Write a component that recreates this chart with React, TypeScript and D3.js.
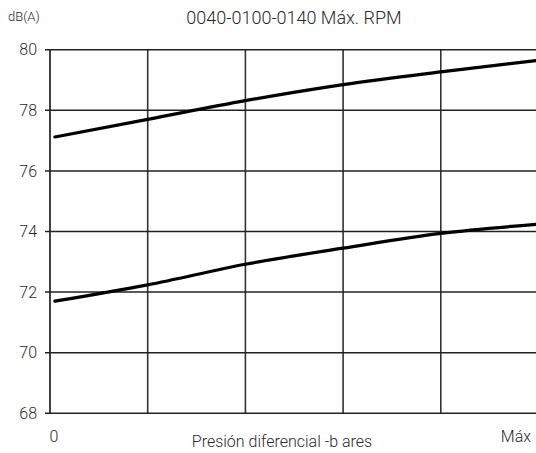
import React, { useRef, useEffect } from "react";
import * as d3 from "d3";

// x en divisiones de la rejilla (0 .. 5), y en dB(A)
const xUpper = [0.05, 1, 2, 3, 4, 5];
const yUpper = [77.12, 77.7, 78.32, 78.85, 79.27, 79.65];
const xLower = [0.05, 1, 2, 3, 4, 5];
const yLower = [71.7, 72.24, 72.92, 73.45, 73.94, 74.24];
const yTicks = [68, 70, 72, 74, 76, 78, 80];
const xGrid = [0, 1, 2, 3, 4, 5];

export default function App() {
  const svgRef = useRef<SVGSVGElement>(null);

  useEffect(() => {
    const width = 536;
    const height = 453;
    const margin = { top: 49.7, right: -2.5, bottom: 39.7, left: 50 };

    const svg = d3.select(svgRef.current);
    svg.selectAll("*").remove();
    svg.attr("width", width).attr("height", height);

    const x = d3.scaleLinear().domain([0, 5]).range([margin.left, width - margin.right]);
    const y = d3.scaleLinear().domain([68, 80]).range([height - margin.bottom, margin.top]);

    const font = "Roboto, 'Liberation Sans', sans-serif";
    const txt = "#2a2a2a";

    // Rejilla vertical
    svg
      .append("g")
      .selectAll("line")
      .data(xGrid)
      .enter()
      .append("line")
      .attr("x1", (d) => x(d))
      .attr("x2", (d) => x(d))
      .attr("y1", y(80))
      .attr("y2", y(68))
      .attr("stroke", (d) => (d === 0 ? "#111" : "#333"))
      .attr("stroke-width", 1.6);

    // Rejilla horizontal con marcas
    svg
      .append("g")
      .selectAll("line")
      .data(yTicks)
      .enter()
      .append("line")
      .attr("x1", margin.left - 5)
      .attr("x2", x(5))
      .attr("y1", (d) => y(d))
      .attr("y2", (d) => y(d))
      .attr("stroke", "#222")
      .attr("stroke-width", 1.5);

    // Etiquetas eje y
    svg
      .append("g")
      .selectAll("text")
      .data(yTicks)
      .enter()
      .append("text")
      .attr("x", 37)
      .attr("y", (d) => y(d))
      .attr("dy", "0.36em")
      .attr("text-anchor", "end")
      .style("font-family", font)
      .style("font-size", "16px")
      .style("font-weight", 300)
      .attr("fill", txt)
      .text((d) => d);

    // Curvas
    const line = d3
      .line<[number, number]>()
      .x((d) => x(d[0]))
      .y((d) => y(d[1]))
      .curve(d3.curveMonotoneX);

    const series = [
      xUpper.map((v, i) => [v, yUpper[i]] as [number, number]),
      xLower.map((v, i) => [v, yLower[i]] as [number, number]),
    ];

    svg
      .append("g")
      .selectAll("path")
      .data(series)
      .enter()
      .append("path")
      .attr("d", (d) => line(d))
      .attr("fill", "none")
      .attr("stroke", "#000")
      .attr("stroke-width", 3.2)
      .attr("stroke-linecap", "round");

    // Textos
    const label = (t: string, px: number, py: number, size: number, anchor: string) =>
      svg
        .append("text")
        .attr("x", px)
        .attr("y", py)
        .attr("text-anchor", anchor)
        .style("font-family", font)
        .style("font-size", `${size}px`)
        .style("font-weight", 300)
        .attr("fill", txt)
        .text(t);

    label("dB(A)", 8, 21, 13, "start");
    label("0040-0100-0140 Máx. RPM", 294, 24, 18, "middle");
    label("0", 49.5, 442, 16, "start");
    label("Presión diferencial -b ares", 282, 447, 16, "middle");
    label("Máx", 531, 442, 16, "end");
  }, []);

  return (
    <div style={{ position: "absolute", left: 0, top: 0, background: "#fff" }}>
      <svg ref={svgRef} style={{ display: "block" }}></svg>
    </div>
  );
}
